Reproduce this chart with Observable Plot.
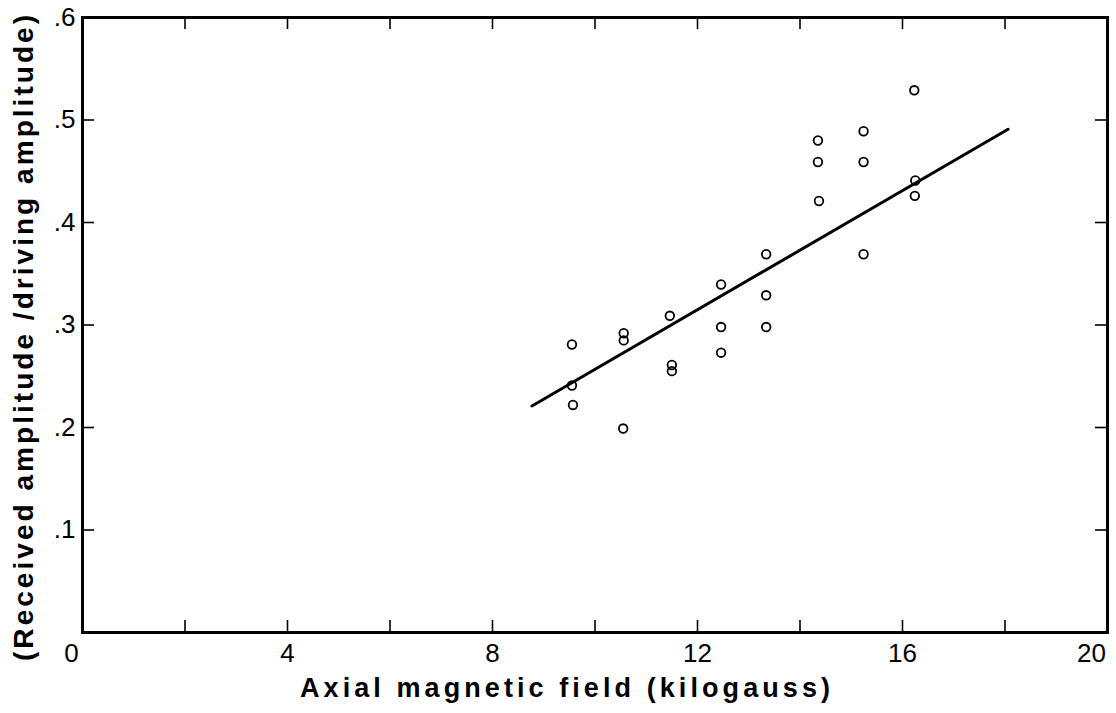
<!DOCTYPE html>
<html>
<head>
<meta charset="utf-8">
<script src="https://cdn.jsdelivr.net/npm/d3@7"></script>
<script src="https://cdn.jsdelivr.net/npm/@observablehq/plot@0.6"></script>
<style>
  html, body { margin: 0; padding: 0; background: #fff; }
  #chart { width: 1116px; height: 713px; }
</style>
</head>
<body>
<div id="chart"></div>
<script>
// Data
const fieldKG = [9.55, 9.55, 9.57, 10.55, 10.56, 10.56, 11.46, 11.5, 11.5,
                 12.46, 12.46, 12.46, 13.34, 13.34, 13.34,
                 14.35, 14.35, 14.37, 15.24, 15.24, 15.24, 16.23, 16.25, 16.24];
const ampRatio = [0.281, 0.241, 0.222, 0.199, 0.292, 0.285, 0.309, 0.261, 0.255,
                  0.3395, 0.298, 0.273, 0.369, 0.329, 0.298,
                  0.480, 0.459, 0.421, 0.489, 0.459, 0.369, 0.529, 0.441, 0.426];
const fitX = [8.77, 18.06];
const fitY = [0.221, 0.491];
const xTicks = [0, 2, 4, 6, 8, 10, 12, 14, 16, 18, 20];
const xTickLabels = [0, 4, 8, 12, 16, 20];
const yTicks = [0.1, 0.2, 0.3, 0.4, 0.5];
const yTickLabels = [0.1, 0.2, 0.3, 0.4, 0.5, 0.6];
const xTitle = "Axial magnetic field (kilogauss)";
const yTitle = "(Received amplitude /driving amplitude)";

const points = fieldKG.map((x, i) => ({x, y: ampRatio[i]}));
const fit = fitX.map((x, i) => ({x, y: fitY[i]}));

const font = "'Liberation Sans', Arial, sans-serif";
const W = 1116, H = 713;
const mL = 82, mR = 9, mT = 17, mB = 81;
const tickLenPx = 12;
const xPerPx = 20 / (W - mL - mR);
const yPerPx = 0.6 / (H - mT - mB);

const inner = xTickLabels.slice(1, -1);
const first = xTickLabels.slice(0, 1);
const last = xTickLabels.slice(-1);
const xLabelOpts = {x: d => d, frameAnchor: "bottom", lineAnchor: "top", dy: 11,
  fontSize: 26, fill: "#000", text: d => String(d)};

const plot = Plot.plot({
  width: W,
  height: H,
  marginLeft: mL,
  marginRight: mR,
  marginTop: mT,
  marginBottom: mB,
  style: {fontFamily: font, background: "#fff", color: "#000"},
  x: {domain: [0, 20], axis: null},
  y: {domain: [0, 0.6]},
  marks: [
    // inward ticks bottom & top
    Plot.ruleX(xTicks, {x: d => d, y1: 0, y2: tickLenPx * yPerPx, stroke: "#000", strokeWidth: 1.6}),
    Plot.ruleX(xTicks, {x: d => d, y1: 0.6, y2: 0.6 - tickLenPx * yPerPx, stroke: "#000", strokeWidth: 1.6}),
    // inward ticks left & right
    Plot.ruleY(yTicks, {y: d => d, x1: 0, x2: tickLenPx * xPerPx, stroke: "#000", strokeWidth: 1.6}),
    Plot.ruleY(yTicks, {y: d => d, x1: 20, x2: 20 - tickLenPx * xPerPx, stroke: "#000", strokeWidth: 1.6}),
    Plot.frame({stroke: "#000", strokeWidth: 3}),
    Plot.text(inner, {...xLabelOpts}),
    Plot.text(first, {...xLabelOpts, dx: -11}),
    Plot.text(last, {...xLabelOpts, dx: -16}),
    Plot.axisY(yTickLabels, {tickSize: 0, tickPadding: 7, fontSize: 26, label: null,
      tickFormat: d => d3.format(".1f")(d).replace(/^0/, "")}),
    Plot.line(fit, {x: "x", y: "y", stroke: "#000", strokeWidth: 3}),
    Plot.dot(points, {x: "x", y: "y", r: 4.3, stroke: "#000", strokeWidth: 1.8, fill: "none"})
  ]
});

const svg = d3.select(plot);
svg.append("text")
  .attr("x", 565).attr("y", 697)
  .attr("text-anchor", "middle")
  .attr("font-family", font)
  .attr("font-weight", "bold")
  .attr("font-size", 27)
  .attr("textLength", 530)
  .attr("lengthAdjust", "spacing")
  .attr("fill", "#000")
  .text(xTitle);
svg.append("text")
  .attr("transform", "translate(33,338) rotate(-90)")
  .attr("text-anchor", "middle")
  .attr("font-family", font)
  .attr("font-weight", "bold")
  .attr("font-size", 28)
  .attr("textLength", 646)
  .attr("lengthAdjust", "spacing")
  .attr("fill", "#000")
  .text(yTitle);

document.getElementById("chart").appendChild(plot);
</script>
</body>
</html>
